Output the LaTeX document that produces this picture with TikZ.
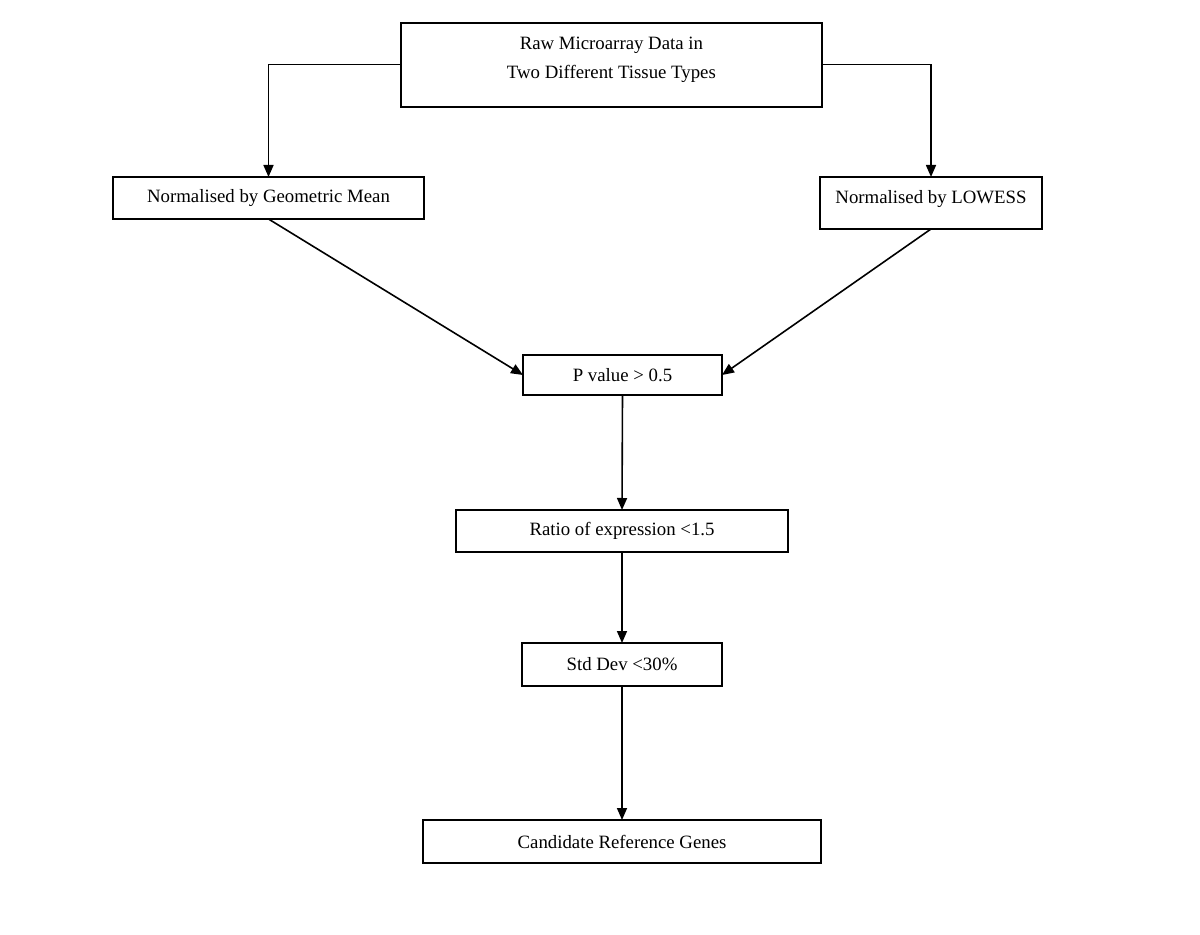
\documentclass[tikz,border=0pt]{standalone}
\usepackage{fontspec}
\setmainfont{Liberation Serif}
\usetikzlibrary{arrows.meta}

\tikzset{
    stagebox/.style={draw, line width=0.9pt, inner sep=0pt, outer sep=0pt,
        font=\fontsize{9.4}{14.5}\selectfont, align=center},
    flow/.style={line width=0.8pt, -{Triangle[length=6pt,width=5pt]}}
}

\begin{document}
\begin{tikzpicture}[x=0.5pt, y=-0.5pt]
    \useasboundingbox (0,0) rectangle (1200,935);

    \node[stagebox, minimum width=210.5pt, text height=27.8pt, text depth=14.2pt] (raw) at (611.4,64.7)
        {Raw Microarray Data in\\Two Different Tissue Types};
    \node[stagebox, minimum width=155.5pt, minimum height=21pt] (geomean) at (268.5,198)
        {Normalised by Geometric Mean};
    \node[stagebox, minimum width=111pt, text height=13.5pt, text depth=12.5pt] (lowess) at (931,203)
        {Normalised by LOWESS};

    \node[stagebox, minimum width=99.5pt, minimum height=20pt] (pvalue) at (622.5,375)
        {P value > 0.5};
    \node[stagebox, minimum width=166pt, minimum height=21pt] (ratio) at (622,531)
        {Ratio of expression <1.5};
    \node[stagebox, minimum width=100pt, minimum height=21.5pt] (stddev) at (622,664.5)
        {Std Dev <30\%};
    \node[stagebox, minimum width=199pt, minimum height=21.5pt] (genes) at (622,841.5)
        {Candidate Reference Genes};

    % split into the two normalisations
    \draw[flow] (raw.west) -| (geomean.north);
    \draw[flow] (raw.east) -| (lowess.north);

    \draw[flow] (geomean.south) -- (pvalue.west);
    \draw[flow] (lowess.south) -- (pvalue.east);

    % filtering steps
    \draw[flow] (pvalue.south) -- (ratio.north);
    \draw[flow] (ratio.south) -- (stddev.north);
    \draw[flow] (stddev.south) -- (genes.north);
\end{tikzpicture}
\end{document}
